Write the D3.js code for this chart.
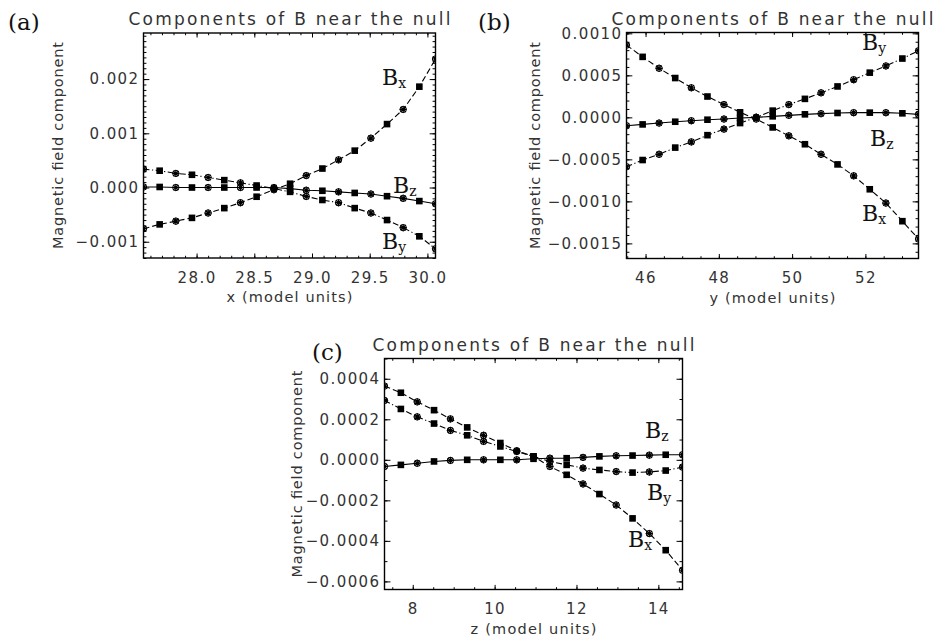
<!DOCTYPE html>
<html>
<head>
<meta charset="utf-8">
<script src="https://cdn.jsdelivr.net/npm/d3@7"></script>
<style>
body { margin: 0; background: #fff; }
svg text { font-family: "DejaVu Sans", sans-serif; fill: #333; }
.tick line { stroke: #000; stroke-width: 1; }
.tick text { font-size: 15px; letter-spacing: 1.4px; }
.title { font-size: 17px; }
.atitle { font-size: 14.5px; }
.serif { font-family: "DejaVu Serif", serif; fill: #111; }
</style>
</head>
<body>
<svg id="chart" width="933" height="639"></svg>
<script>
// component names used for the B_x, B_y, B_z labels
var compNames = ["x", "y", "z"];

// panel (a): cut along x
var xA = [27.54, 27.68, 27.82, 27.96, 28.10, 28.24, 28.38, 28.52, 28.67, 28.81,
          28.95, 29.09, 29.23, 29.37, 29.51, 29.65, 29.79, 29.93, 30.07];
var bxA = [-0.00076, -0.00068, -0.00062, -0.00056, -0.00047, -0.00038, -0.00028, -0.00017, -0.00004, 0.00007,
           0.00022, 0.00035, 0.00051, 0.00068, 0.00091, 0.00117, 0.00144, 0.00186, 0.00237];
var byA = [0.00034, 0.00031, 0.00026, 0.000235, 0.000185, 0.000136, 0.000086, 0.000037, -0.00002, -0.00008,
           -0.000165, -0.00023, -0.00028, -0.00038, -0.00047, -0.00060, -0.00074, -0.00090, -0.00113];
var bzA = [0.00001, 0.00001, 0.0, 0.0, 0.0, 0.0, 0.0, 0.0, 0.0, -0.00002,
           -0.00005, -0.00006, -0.00008, -0.0001, -0.00012, -0.00016, -0.0002, -0.00025, -0.0003];
var xTicksA = [28.0, 28.5, 29.0, 29.5, 30.0];
var yTicksA = [-0.001, 0.0, 0.001, 0.002];

// panel (b): cut along y
var xB = [45.48, 45.92, 46.37, 46.81, 47.25, 47.69, 48.14, 48.58, 49.02, 49.47,
          49.91, 50.35, 50.79, 51.24, 51.68, 52.12, 52.56, 53.01, 53.45];
var bxB = [0.00086, 0.00072, 0.000584, 0.000468, 0.000352, 0.000248, 0.000152, 0.00006, -0.00002, -0.00012,
           -0.00022, -0.00032, -0.00044, -0.00056, -0.000696, -0.000856, -0.00102, -0.001236, -0.001448];
var byB = [-0.000588, -0.000508, -0.00044, -0.00036, -0.000292, -0.000212, -0.00014, -0.000068, 0.0, 0.00008,
           0.000152, 0.00022, 0.000292, 0.000368, 0.000448, 0.000532, 0.000612, 0.0007, 0.000792];
var bzB = [-0.0001, -0.000084, -0.000068, -0.000052, -0.00004, -0.000028, -0.00002, -0.000008, 0.0, 0.000012,
           0.000024, 0.000036, 0.000044, 0.000052, 0.000056, 0.000056, 0.000056, 0.000048, 0.000036];
var xTicksB = [46, 48, 50, 52];
var yTicksB = [-0.0015, -0.001, -0.0005, 0.0, 0.0005, 0.001];

// panel (c): cut along z
var xC = [7.31, 7.71, 8.11, 8.52, 8.92, 9.33, 9.73, 10.14, 10.54, 10.95,
          11.35, 11.76, 12.16, 12.56, 12.97, 13.37, 13.78, 14.18, 14.59];
var bxC = [0.000364, 0.000331, 0.000286, 0.000245, 0.000202, 0.00016, 0.000121, 0.000083, 0.000045, 0.000017,
           -0.000033, -0.000074, -0.000119, -0.000169, -0.000223, -0.000289, -0.000364, -0.000446, -0.000545];
var byC = [0.000293, 0.000251, 0.000212, 0.000179, 0.000145, 0.000121, 0.000091, 0.000066, 0.000041, 0.000017,
           -0.000008, -0.000025, -0.000041, -0.00005, -0.000058, -0.000063, -0.00006, -0.000053, -0.000036];
var bzC = [-0.000033, -0.000025, -0.000017, -0.000008, -0.000003, 0.0, 0.0, 0.0, 0.0, 0.000005,
           0.000008, 0.000008, 0.000012, 0.000017, 0.00002, 0.000021, 0.000023, 0.000025, 0.000025];
var xTicksC = [8, 10, 12, 14];
var yTicksC = [-0.0006, -0.0004, -0.0002, 0.0, 0.0002, 0.0004];

var titleText = "Components of B near the null";
var yTitleText = "Magnetic field component";

// line style per component: Bx dashed, By dash-dot, Bz solid
var dashes = ["6,3", "6,2.5,1.2,2.5", null];

var Panel = function(opts) {
    this.o = opts;
    this.svg = opts.svg;
    this.draw();
};

Panel.prototype.draw = function() {
    this.g = this.svg.append("g");
    this.setScales();
    this.addClip();
    this.drawSeries();
    this.drawAxes();
    this.drawText();
};

Panel.prototype.setScales = function() {
    var b = this.o.box;
    this.x = d3.scaleLinear().domain(d3.extent(this.o.xs)).range([b.left, b.right]);
    this.y = d3.scaleLinear().domain(this.o.yDomain).range([b.bottom, b.top]);
};

Panel.prototype.addClip = function() {
    var b = this.o.box;
    this.g.append("clipPath")
        .attr("id", "clip-" + this.o.id)
        .append("rect")
        .attr("x", b.left).attr("y", b.top)
        .attr("width", b.right - b.left).attr("height", b.bottom - b.top);
};

Panel.prototype.drawSeries = function() {
    var _this = this;
    var xs = this.o.xs;
    var plot = this.g.append("g").attr("clip-path", "url(#clip-" + this.o.id + ")");

    var line = d3.line()
        .x(function(d, i) { return _this.x(xs[i]); })
        .y(function(d) { return _this.y(d); });

    this.o.series.forEach(function(vals, k) {
        plot.append("path")
            .datum(vals)
            .attr("d", line)
            .attr("fill", "none")
            .attr("stroke", "#000")
            .attr("stroke-width", 1.1)
            .attr("stroke-dasharray", dashes[k]);
    });

    this.o.series.forEach(function(vals) {
        var pts = plot.append("g").selectAll("g")
            .data(vals)
            .enter().append("g")
            .attr("transform", function(d, i) {
                return "translate(" + _this.x(xs[i]) + "," + _this.y(d) + ")";
            });

        pts.filter(function(d, i) { return i % 2 === 1; })
            .append("rect")
            .attr("x", -3.3).attr("y", -3.3)
            .attr("width", 6.6).attr("height", 6.6)
            .attr("fill", "#000");

        var stars = pts.filter(function(d, i) { return i % 2 === 0; });
        stars.append("circle")
            .attr("r", 3.2)
            .attr("fill", "none")
            .attr("stroke", "#000")
            .attr("stroke-width", 1);
        stars.append("path")
            .attr("d", "M-3.5,0H3.5M0,-3.5V3.5M-2.6,-2.6L2.6,2.6M-2.6,2.6L2.6,-2.6")
            .attr("stroke", "#000")
            .attr("stroke-width", 1.2);
    });
};

function minorTicks(domain, step) {
    var n0 = Math.ceil(domain[0] / step - 1e-9),
        n1 = Math.floor(domain[1] / step + 1e-9);
    return d3.range(n0, n1 + 1).map(function(k) { return +(k * step).toFixed(8); });
}

Panel.prototype.drawAxes = function() {
    var o = this.o, b = o.box, g = this.g;
    var xLen = 0.02 * (b.bottom - b.top), yLen = 0.02 * (b.right - b.left);
    var xMin = minorTicks(this.x.domain(), o.xMinor),
        yMin = minorTicks(this.y.domain(), o.yMinor);

    var axes = [
        [d3.axisBottom(this.x).tickValues(xMin).tickSize(-xLen / 2), "translate(0," + b.bottom + ")"],
        [d3.axisTop(this.x).tickValues(xMin).tickSize(-xLen / 2), "translate(0," + b.top + ")"],
        [d3.axisTop(this.x).tickValues(o.xTicks).tickSize(-xLen), "translate(0," + b.top + ")"],
        [d3.axisLeft(this.y).tickValues(yMin).tickSize(-yLen / 2), "translate(" + b.left + ",0)"],
        [d3.axisRight(this.y).tickValues(yMin).tickSize(-yLen / 2), "translate(" + b.right + ",0)"],
        [d3.axisRight(this.y).tickValues(o.yTicks).tickSize(-yLen), "translate(" + b.right + ",0)"]
    ];
    axes.forEach(function(a) {
        g.append("g").attr("transform", a[1]).call(a[0].tickFormat("").tickSizeOuter(0))
            .select(".domain").remove();
    });

    // labelled axes
    var xa = g.append("g")
        .attr("transform", "translate(0," + b.bottom + ")")
        .call(d3.axisBottom(this.x).tickValues(o.xTicks).tickSize(-xLen).tickSizeOuter(0)
            .tickPadding(14).tickFormat(d3.format(o.xFmt)));
    var ya = g.append("g")
        .attr("transform", "translate(" + b.left + ",0)")
        .call(d3.axisLeft(this.y).tickValues(o.yTicks).tickSize(-yLen).tickSizeOuter(0)
            .tickPadding(4).tickFormat(d3.format(o.yFmt)));
    [xa, ya].forEach(function(a) {
        a.select(".domain").remove();
        a.attr("font-family", null).attr("font-size", null);
    });

    g.append("rect")
        .attr("x", b.left).attr("y", b.top)
        .attr("width", b.right - b.left).attr("height", b.bottom - b.top)
        .attr("fill", "none")
        .attr("stroke", "#000")
        .attr("stroke-width", 1.4);
};

Panel.prototype.drawText = function() {
    var o = this.o, b = o.box, g = this.g;
    var cx = (b.left + b.right) / 2, cy = (b.top + b.bottom) / 2;

    g.append("text")
        .attr("class", "title")
        .attr("x", cx).attr("y", b.top - 8)
        .attr("text-anchor", "middle")
        .attr("textLength", 322)
        .attr("lengthAdjust", "spacing")
        .text(titleText);

    g.append("text")
        .attr("class", "atitle")
        .attr("x", cx).attr("y", b.bottom + 44)
        .attr("text-anchor", "middle")
        .attr("textLength", 126)
        .attr("lengthAdjust", "spacing")
        .text(o.xTitle);

    g.append("text")
        .attr("class", "atitle")
        .attr("transform", "translate(" + o.yTitleX + "," + cy + ") rotate(-90)")
        .attr("text-anchor", "middle")
        .attr("textLength", 207)
        .attr("lengthAdjust", "spacing")
        .text(yTitleText);

    g.append("text")
        .attr("class", "serif")
        .attr("x", o.letter[0]).attr("y", o.letter[1])
        .attr("font-size", 23)
        .text(o.letterText);

    o.labelPos.forEach(function(p, k) {
        var t = g.append("text")
            .attr("class", "serif")
            .attr("x", p[0]).attr("y", p[1])
            .attr("font-size", 22);
        t.append("tspan").text("B");
        t.append("tspan").attr("font-size", 14).attr("dy", 3).text(compNames[k]);
    });
};

var svg = d3.select("#chart");

new Panel({
    svg: svg, id: "a",
    box: {left: 143.5, right: 435.5, top: 33, bottom: 258},
    xs: xA, series: [bxA, byA, bzA],
    yDomain: [-0.00130, 0.00285],
    xTicks: xTicksA, xMinor: 0.1, xFmt: ".1f",
    yTicks: yTicksA, yMinor: 0.0001, yFmt: ".3f",
    xTitle: "x (model units)", yTitleX: 63,
    letter: [8, 30], letterText: "(a)",
    labelPos: [[382, 85], [382, 249], [393, 193]]
});

new Panel({
    svg: svg, id: "b",
    box: {left: 626.5, right: 918.5, top: 32.5, bottom: 258.5},
    xs: xB, series: [bxB, byB, bzB],
    yDomain: [-0.00168, 0.00101],
    xTicks: xTicksB, xMinor: 0.5, xFmt: "d",
    yTicks: yTicksB, yMinor: 0.0001, yFmt: ".4f",
    xTitle: "y (model units)", yTitleX: 540,
    letter: [478, 30], letterText: "(b)",
    labelPos: [[862, 221], [862, 50], [870, 146]]
});

new Panel({
    svg: svg, id: "c",
    box: {left: 384.5, right: 682.5, top: 358.5, bottom: 589.5},
    xs: xC, series: [bxC, byC, bzC],
    yDomain: [-0.00064, 0.00050],
    xTicks: xTicksC, xMinor: 0.5, xFmt: "d",
    yTicks: yTicksC, yMinor: 0.0001, yFmt: ".4f",
    xTitle: "z (model units)", yTitleX: 302,
    letter: [312, 360], letterText: "(c)",
    labelPos: [[628, 547], [647, 500], [645, 438]]
});
</script>
</body>
</html>
